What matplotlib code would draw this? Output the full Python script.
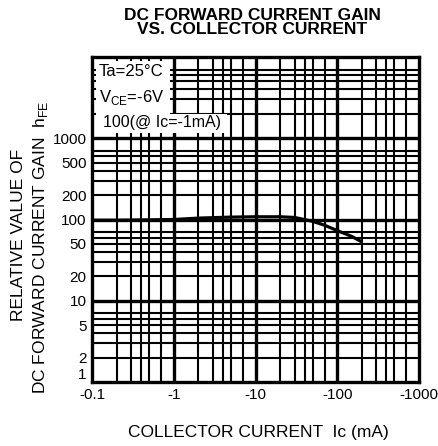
import matplotlib
matplotlib.use("Agg")
import matplotlib.pyplot as plt
from matplotlib.patches import Rectangle

# Data (Ic magnitude in mA, relative hFE)
ic = [0.1, 0.2, 0.5, 1, 2, 5, 10, 20, 30, 50, 70, 100, 150, 200]
hfe = [98, 98, 99, 100, 104, 107, 108, 108, 106, 95, 85, 73, 62, 53]

x_ticks = [0.1, 1, 10, 100, 1000]
x_labels = ["-0.1", "-1", "-10", "-100", "-1000"]
y_ticks = [1, 2, 5, 10, 20, 50, 100, 200, 500, 1000]
y_labels = ["1", "2", "5", "10", "20", "50", "100", "200", "500", "1000"]

plt.rcParams['font.family'] = ['Liberation Sans', 'DejaVu Sans']

W, H = 438, 446
fig = plt.figure(figsize=(W / 100, H / 100), dpi=100)
L, R, T, B = 92, 419, 57, 382
ax = fig.add_axes([L / W, 1 - B / H, (R - L) / W, (B - T) / H])
ax.set_xscale('log')
ax.set_yscale('log')
ax.set_xlim(0.1, 1000)
ax.set_ylim(1, 10000)

# grid
for d in [0.1, 1, 10, 100]:
    for m in [2, 3, 4, 5, 7]:
        ax.axvline(d * m, color='black', lw=1.5, zorder=1)
for d in [1, 10, 100]:
    ax.axvline(d, color='black', lw=2.4, zorder=1)
for d in [1, 10, 100, 1000]:
    for m in [2, 3, 4, 5, 6, 7]:
        ax.axhline(d * m, color='black', lw=1.5, zorder=1)
for d in [10, 100, 1000]:
    ax.axhline(d, color='black', lw=2.4, zorder=1)

# white box behind annotations
ax.add_patch(Rectangle((0.013, 0.82), 0.225, 0.168, transform=ax.transAxes,
                       facecolor='white', edgecolor='none', zorder=2))
ax.add_patch(Rectangle((0.013, 0.765), 0.40, 0.06, transform=ax.transAxes,
                       facecolor='white', edgecolor='none', zorder=2))
ax.text(0.02, 0.955, "Ta=25\u00b0C", transform=ax.transAxes, fontsize=12,
        va='center', ha='left', zorder=3)
ax.text(0.02, 0.875, "V$_{\\mathregular{CE}}$=-6V", transform=ax.transAxes, fontsize=12,
        va='center', ha='left', zorder=3)
ax.text(0.033, 0.797, "100(@ Ic=-1mA)", transform=ax.transAxes, fontsize=11.5,
        va='center', ha='left', zorder=3)

ax.plot(ic, hfe, color='black', lw=2.3, zorder=4, solid_capstyle='butt')

for s in ax.spines.values():
    s.set_linewidth(2.4)
    s.set_zorder(5)

ax.set_xticks(x_ticks)
ax.set_xticklabels(x_labels, fontsize=11)
ax.set_yticks(y_ticks)
ax.set_yticklabels(y_labels, fontsize=11)
ax.minorticks_off()
ax.tick_params(length=0, pad=4)
ax.get_yticklabels()[0].set_va('bottom')
for lab in ax.get_xticklabels():
    lab.set_va('top')

fig.text(252 / W, 1 - 15 / H, "DC FORWARD CURRENT GAIN", ha='center', va='center',
         fontsize=12.5, fontweight='bold')
fig.text(252 / W, 1 - 29 / H, "VS. COLLECTOR CURRENT", ha='center', va='center',
         fontsize=12.5, fontweight='bold')
fig.text(19 / W, 1 - 235 / H, "RELATIVE VALUE OF", rotation=90, ha='center',
         va='center', fontsize=12.5)
fig.text(41 / W, 1 - 247 / H, "DC FORWARD CURRENT GAIN  h$_{\\mathregular{FE}}$",
         rotation=90, ha='center', va='center', fontsize=12.5)
fig.text(258 / W, 1 - 433 / H, "COLLECTOR CURRENT  Ic (mA)", ha='center',
         va='center', fontsize=12.5)

fig.savefig("out.png", dpi=100)
